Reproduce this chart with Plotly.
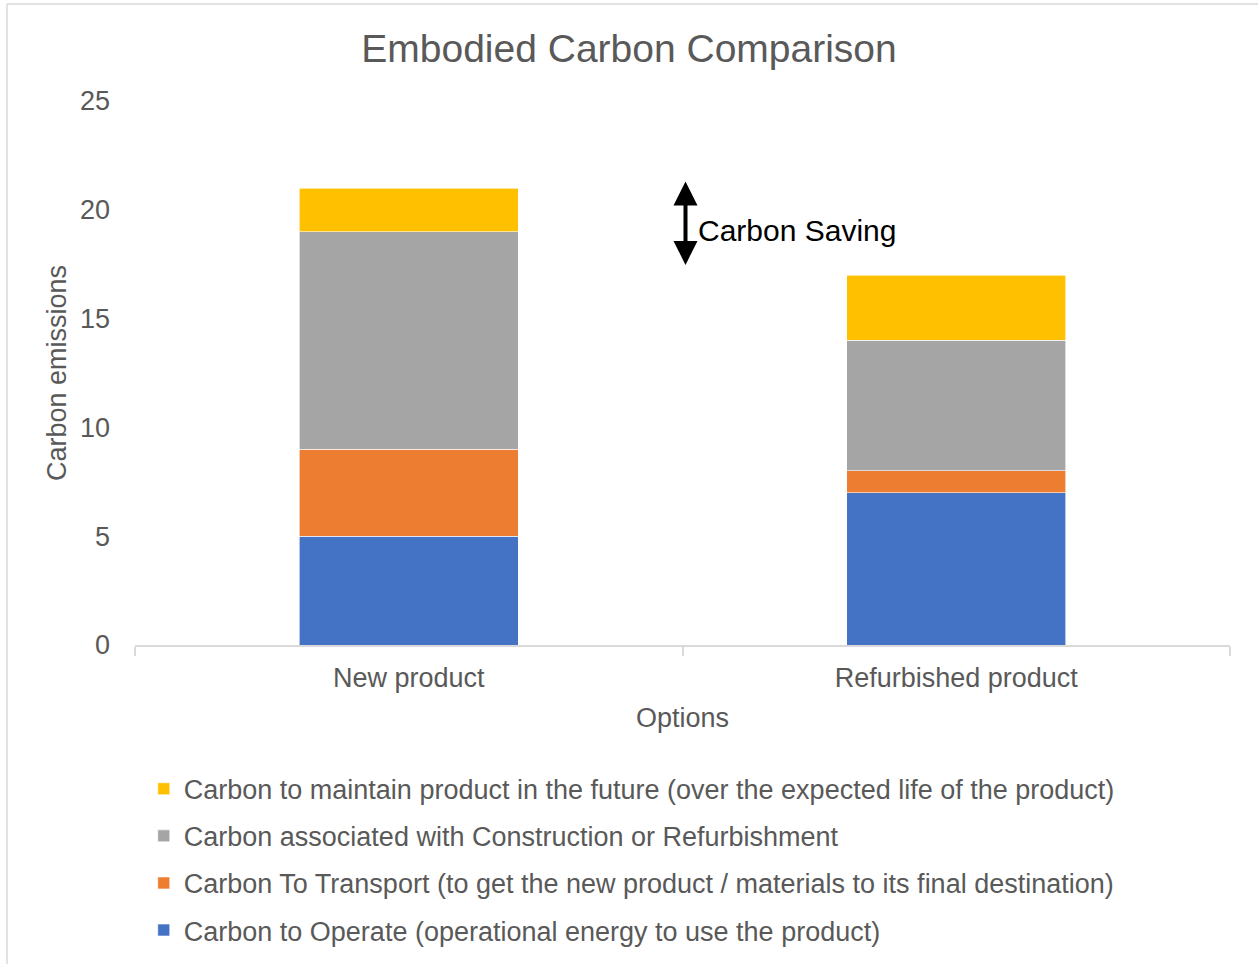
import plotly.graph_objects as go

categories = ["New product", "Refurbished product"]
operate = [5, 7]
transport = [4, 1]
construction = [10, 6]
maintain = [2, 3]

series_names = [
    "Carbon to Operate (operational energy to use the product)",
    "Carbon To Transport (to get the new product / materials to its final destination)",
    "Carbon associated with Construction or Refurbishment",
    "Carbon to maintain product in the future (over the expected life of the product)",
]
series_values = [operate, transport, construction, maintain]
series_colors = ["#4472C4", "#ED7D31", "#A5A5A5", "#FFC000"]

y_ticks = [0, 5, 10, 15, 20, 25]
saving_range = [17.4, 21.3]

FONT = "Liberation Sans, Arial, Helvetica, sans-serif"
TXT = "#595959"

fig = go.Figure()
n = len(series_names)
for i, (name, vals, col) in enumerate(zip(series_names, series_values, series_colors)):
    fig.add_trace(go.Bar(
        x=categories, y=vals, name=name,
        marker=dict(color=col, line=dict(color="white", width=0.6)),
        legendgroup=f"g{i}", legendrank=n - i,
    ))

fig.update_layout(
    barmode="stack",
    bargap=0.6,
    width=1258, height=964,
    paper_bgcolor="white", plot_bgcolor="white",
    margin=dict(l=135, r=28, t=101, b=319, autoexpand=False),
    font=dict(family=FONT, color=TXT, size=27),
    title=dict(text="Embodied Carbon Comparison", x=0.5, xanchor="center",
               y=1 - 48 / 964, yanchor="middle",
               font=dict(size=39, color=TXT, family=FONT)),
    showlegend=True,
    legend=dict(
        orientation="v", traceorder="grouped",
        x=0.008, xanchor="left", y=-0.22, yanchor="top",
        font=dict(size=27, color=TXT, family=FONT),
        tracegroupgap=9, itemwidth=30,
        bgcolor="rgba(0,0,0,0)",
    ),
)

fig.update_xaxes(
    title=dict(text="Options", font=dict(size=27, color=TXT), standoff=16),
    showline=True, linecolor="#D9D9D9", linewidth=1.5,
    ticks="outside", tickson="boundaries", ticklen=9, tickcolor="#D9D9D9", tickwidth=1.5,
    tickfont=dict(size=27, color=TXT), ticklabelstandoff=8,
    showgrid=False,
)
fig.update_yaxes(
    title=dict(text="Carbon emissions", font=dict(size=27, color=TXT), standoff=5),
    range=[0, 25], tickvals=y_ticks, ticktext=[str(t) for t in y_ticks],
    showgrid=False, showline=False, zeroline=False,
    tickfont=dict(size=27, color=TXT),
    ticks="", ticklabelstandoff=24,
)

# Carbon saving double arrow
fig.add_annotation(
    x=0.5, y=saving_range[1], ax=0.5, ay=saving_range[0],
    xref="x", yref="y", axref="x", ayref="y",
    text="", showarrow=True, arrowhead=2, arrowside="end+start",
    arrowsize=1.2, arrowwidth=4, arrowcolor="black", xshift=3,
)
fig.add_annotation(
    x=0.5, y=(saving_range[0] + saving_range[1]) / 2,
    xref="x", yref="y", xanchor="left", yanchor="middle", xshift=13, yshift=-7,
    text="Carbon Saving", showarrow=False,
    font=dict(size=30, color="black", family=FONT),
)

# Chart border (top and left lines)
fig.add_shape(type="line", xref="paper", yref="paper",
              x0=(7 - 135) / 1095, x1=(1258 - 135) / 1095,
              y0=(645 - 4) / 544, y1=(645 - 4) / 544,
              line=dict(color="#D9D9D9", width=1.5))
fig.add_shape(type="line", xref="paper", yref="paper",
              x0=(7 - 135) / 1095, x1=(7 - 135) / 1095,
              y0=(645 - 4) / 544, y1=(645 - 964) / 544,
              line=dict(color="#D9D9D9", width=1.5))

fig.write_html("out.html", config={"displayModeBar": False},
               post_script="document.body.style.margin='0';")
